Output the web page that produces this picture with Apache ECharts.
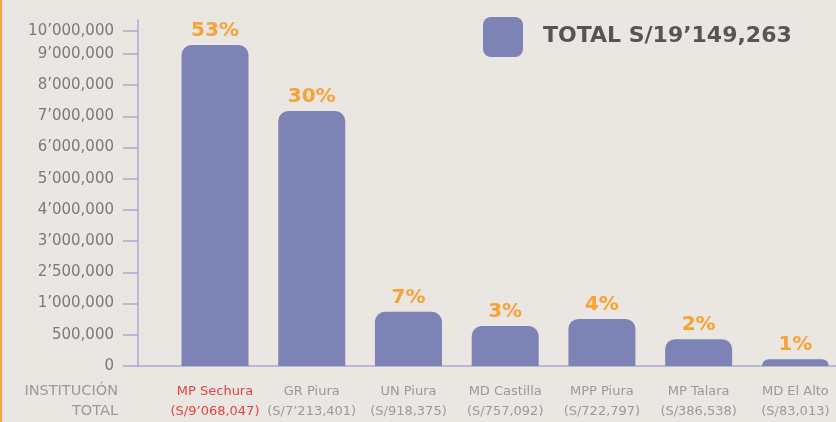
<!DOCTYPE html>
<html><head><meta charset="utf-8">
<script src="https://cdn.jsdelivr.net/npm/echarts@6/dist/echarts.min.js"></script>
<style>html,body{margin:0;padding:0;background:#EAE6E2;}#c{width:836px;height:422px;}</style>
</head><body><div id="c"></div>
<script>
// Categories (institutions) and their totals
var categories = ['MP Sechura', 'GR Piura', 'UN Piura', 'MD Castilla', 'MPP Piura', 'MP Talara', 'MD El Alto'];
var totals = ['(S/9’068,047)', '(S/7’213,401)', '(S/918,375)', '(S/757,092)', '(S/722,797)', '(S/386,538)', '(S/83,013)'];
var percents = ['53%', '30%', '7%', '3%', '4%', '2%', '1%'];
// Bar heights as drawn, read in the chart's (non-linear) axis units: 1 unit = one tick step
var barHeights = [10.29, 8.17, 1.74, 1.28, 1.51, 0.86, 0.22];
// Y-axis tick positions and labels
var tickPositions = [0, 1, 2, 3, 4, 5, 6, 7, 8, 9, 10, 10.74];
var tickLabels = ['0', '500,000', '1’000,000', '2’500,000', '3’000,000', '4’000,000', '5’000,000', '6’000,000', '7’000,000', '8’000,000', '9’000,000', '10’000,000'];
var legendText = 'TOTAL S/19’149,263';

var FONT = '"DejaVu Sans", sans-serif';
var AXIS = '#A9AAD3';
var chart = echarts.init(document.getElementById('c'));
var xIdx = categories.map(function (_, i) { return i; });
chart.setOption({
  backgroundColor: '#EAE6E2',
  animation: false,
  grid: { left: 138, right: 0, top: 20, bottom: 56 },
  xAxis: {
    type: 'value', min: -0.796, max: 6.42,
    splitLine: { show: false },
    axisLine: { show: true, onZero: false, lineStyle: { color: AXIS, width: 1.5 } },
    axisTick: { show: false },
    axisLabel: {
      customValues: xIdx, margin: 16,
      formatter: function (v) {
        var i = Math.round(v);
        var tag = i === 0 ? 'r' : 'g';
        return '{' + tag + '|' + categories[i] + '}\n{' + tag + '|' + totals[i] + '}';
      },
      rich: {
        g: { color: '#9a9a9a', fontSize: 13, lineHeight: 20, fontFamily: FONT },
        r: { color: '#E8413F', fontSize: 13, lineHeight: 20, fontFamily: FONT }
      }
    }
  },
  yAxis: {
    type: 'value', min: 0, max: 11.09,
    splitLine: { show: false },
    axisLine: { show: true, onZero: false, lineStyle: { color: AXIS, width: 1.5 } },
    axisTick: { show: true, length: 15, customValues: tickPositions, lineStyle: { color: AXIS, width: 1.5 } },
    axisLabel: {
      customValues: tickPositions, margin: 24,
      color: '#7a7a7a', fontSize: 15, fontFamily: FONT,
      formatter: function (v) {
        for (var i = 0; i < tickPositions.length; i++) if (Math.abs(tickPositions[i] - v) < 1e-6) return tickLabels[i];
        return '';
      }
    }
  },
  series: [{
    type: 'bar',
    barWidth: 67,
    data: barHeights.map(function (h, i) { return [i, h]; }),
    itemStyle: { color: '#7E83B5', borderRadius: [10, 10, 0, 0] },
    label: {
      show: true, position: 'top', distance: 4,
      color: '#F7A234', fontSize: 20, fontWeight: 'bold', fontFamily: FONT,
      formatter: function (p) { return percents[p.dataIndex]; }
    }
  }],
  graphic: [
    { type: 'rect', left: 0, top: 0, shape: { width: 2, height: 422 }, style: { fill: '#F5A640' } },
    { type: 'rect', left: 483, top: 17, shape: { width: 40, height: 40, r: 8 }, style: { fill: '#7E83B5' } },
    { type: 'text', left: 543, top: 25, style: { text: legendText, fill: '#555555', font: 'bold 22px ' + FONT } },
    { type: 'text', right: 718, top: 384, style: { text: 'INSTITUCIÓN', fill: '#9a9a9a', font: '14.5px ' + FONT, align: 'right' } },
    { type: 'text', right: 718, top: 404, style: { text: 'TOTAL', fill: '#9a9a9a', font: '14.5px ' + FONT, align: 'right' } }
  ]
});
</script>
</body></html>
